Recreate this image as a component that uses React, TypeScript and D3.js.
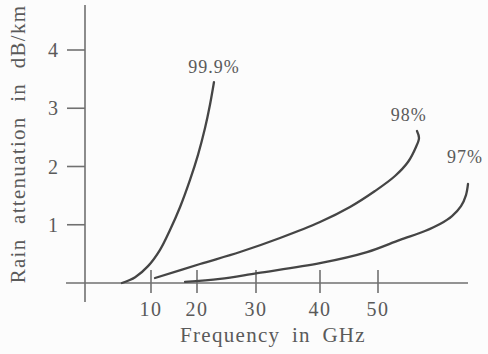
import React from "react";
import * as d3 from "d3";

const xTicks = [10, 20, 30, 40, 50];
const yTicks = [1, 2, 3, 4];

// Frequency (GHz), rain attenuation (dB/km)
const freq999 = [5.6, 7.6, 9.55, 11.96, 14.13, 16.3, 18.48, 20.17, 21.36, 22.2, 22.88];
const att999 = [0.0, 0.1, 0.29, 0.57, 0.91, 1.3, 1.77, 2.2, 2.66, 3.06, 3.45];

const freq98 = [10.87, 20.51, 27.29, 33.75, 40.0, 45.17, 49.48, 52.93, 55.17, 56.55, 57.07, 56.72];
const att98 = [0.086, 0.326, 0.532, 0.773, 1.047, 1.305, 1.579, 1.837, 2.077, 2.335, 2.49, 2.61];

const freq97 = [17.4, 23.9, 30.2, 40.0, 48.1, 53.8, 58.1, 60.69, 62.76, 64.31, 65.17, 65.52];
const att97 = [0.02, 0.07, 0.17, 0.34, 0.53, 0.74, 0.893, 1.013, 1.15, 1.32, 1.51, 1.7];

const seriesLabels = ["99.9%", "98%", "97%"];

const W = 488;
const H = 354;

export default function App() {
  // The original figure's frequency axis is hand-drawn with uneven spacing
  const x = d3
    .scaleLinear()
    .domain([0, 10, 20, 30, 40, 50])
    .range([85, 151, 197, 256, 320, 378]);
  const y = d3.scaleLinear().domain([0, 4]).range([283, 50]);

  const line = d3
    .line<[number, number]>()
    .x((d) => x(d[0]))
    .y((d) => y(d[1]))
    .curve(d3.curveCatmullRom.alpha(0.5));

  const series = [
    { f: freq999, a: att999 },
    { f: freq98, a: att98 },
    { f: freq97, a: att97 },
  ];

  const labelPos = [
    { x: x(22.7) + 1, y: y(3.45) - 9 },
    { x: x(56.7) - 8, y: y(2.61) - 10 },
    { x: x(65.5) - 3, y: y(1.7) - 21 },
  ];

  const axisColor = "#707070";
  const inkColor = "#454545";
  const textColor = "#5a5a5a";
  const font = "'Liberation Serif', 'DejaVu Serif', serif";

  const x0 = x(0);
  const yBase = y(0);

  return (
    <svg
      width={W}
      height={H}
      style={{ position: "absolute", left: 0, top: 0, background: "#fcfcfc" }}
    >
      {/* axes */}
      <line x1={x0} x2={x0} y1={5} y2={302} stroke={axisColor} strokeWidth={1.6} />
      <line x1={66} x2={468} y1={yBase} y2={yBase} stroke={axisColor} strokeWidth={1.6} />
      {yTicks.map((t) => (
        <g key={"y" + t}>
          <line x1={x0 - 18} x2={x0} y1={y(t)} y2={y(t)} stroke={axisColor} strokeWidth={1.6} />
          <text
            x={58}
            y={y(t) + 7}
            textAnchor="end"
            fontFamily={font}
            fontSize={20}
            fill={textColor}
          >
            {t}
          </text>
        </g>
      ))}
      {xTicks.map((t) => (
        <g key={"x" + t}>
          <line x1={x(t)} x2={x(t)} y1={yBase - 13} y2={yBase + 10} stroke={axisColor} strokeWidth={1.6} />
          <text
            x={x(t)}
            y={316}
            textAnchor="middle"
            fontFamily={font}
            fontSize={20}
            letterSpacing={1.5}
            fill={textColor}
          >
            {t}
          </text>
        </g>
      ))}
      {/* curves */}
      {series.map((s, i) => (
        <path
          key={"s" + i}
          d={line(s.f.map((f, j) => [f, s.a[j]] as [number, number])) || ""}
          fill="none"
          stroke={inkColor}
          strokeWidth={2.3}
          strokeLinecap="round"
        />
      ))}
      {seriesLabels.map((l, i) => (
        <text
          key={"l" + i}
          x={labelPos[i].x}
          y={labelPos[i].y}
          textAnchor="middle"
          fontFamily={font}
          fontSize={18}
          letterSpacing={1}
          fill={textColor}
        >
          {l}
        </text>
      ))}
      {/* axis titles */}
      <text
        x={273}
        y={342}
        textAnchor="middle"
        fontFamily={font}
        fontSize={21}
        letterSpacing={1.3}
        wordSpacing={5}
        fill={textColor}
      >
        Frequency in GHz
      </text>
      <text
        transform={`translate(25, 144) rotate(-90)`}
        textAnchor="middle"
        fontFamily={font}
        fontSize={21}
        letterSpacing={1.3}
        wordSpacing={8}
        fill={textColor}
      >
        Rain attenuation in dB/km
      </text>
    </svg>
  );
}
